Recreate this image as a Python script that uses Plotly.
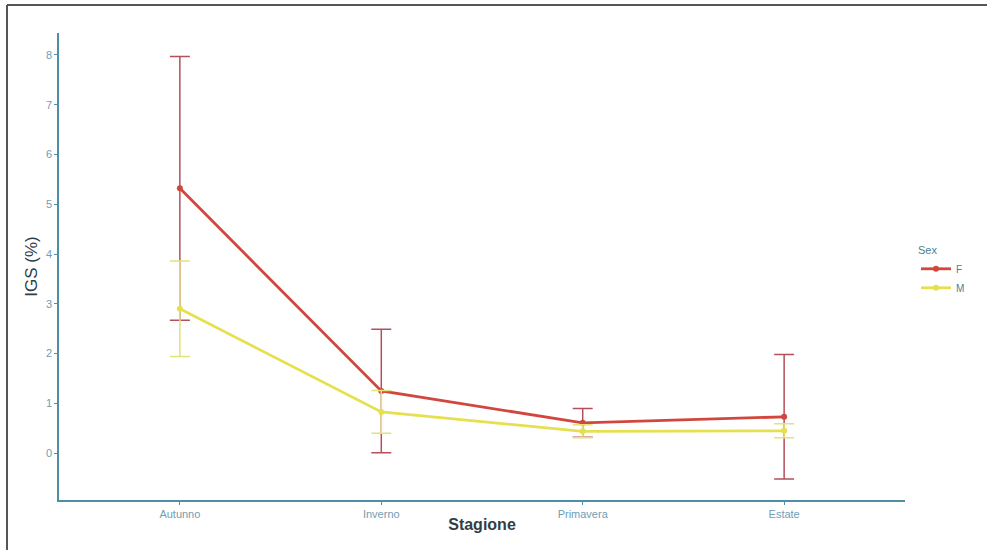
import plotly.graph_objects as go

stagioni = ["Autunno", "Inverno", "Primavera", "Estate"]
igs_f = [5.32, 1.25, 0.61, 0.73]
err_f = [2.65, 1.24, 0.29, 1.25]
igs_m = [2.90, 0.83, 0.44, 0.45]
err_m = [0.96, 0.43, 0.13, 0.14]
y_ticks = [0, 1, 2, 3, 4, 5, 6, 7, 8]

col_f = "#d2473d"
col_f_err = "#b4505c"
col_m = "#e6e04e"
col_m_err = "#e4e27a"
axis_col = "#4f8fa6"
tick_font_col = "#6f9db3"

W, H = 987, 550
L, R, T, B = 59, 82, 33, 50
pw = W - L - R
ph = H - T - B

fig = go.Figure()
fig.add_trace(go.Scatter(
    x=stagioni, y=igs_f, name="F", mode="lines+markers",
    line=dict(color=col_f, width=2.8), marker=dict(color=col_f, size=6),
    error_y=dict(type="data", array=err_f, visible=True, color=col_f_err, thickness=1.5, width=10),
))
fig.add_trace(go.Scatter(
    x=stagioni, y=igs_m, name="M", mode="lines+markers",
    line=dict(color=col_m, width=2.8), marker=dict(color=col_m, size=6),
    error_y=dict(type="data", array=err_m, visible=True, color=col_m_err, thickness=1.5, width=10),
))

fig.update_layout(
    width=W, height=H,
    margin=dict(l=L, r=R, t=T, b=B),
    paper_bgcolor="white", plot_bgcolor="white",
    font=dict(family="Liberation Sans, Arial, sans-serif", color="#333333"),
    showlegend=True,
    legend=dict(
        title=dict(text="Sex", font=dict(size=11, color="#4a7f99")),
        font=dict(size=10, color="#4a7f99"),
        x=(916 - L) / pw, y=(H - B - 240) / ph, xanchor="left", yanchor="top",
        bgcolor="rgba(0,0,0,0)", itemwidth=30, tracegroupgap=0,
    ),
    xaxis=dict(
        type="category", range=[-0.6, 3.6],
        showline=True, linecolor=axis_col, linewidth=1.5,
        ticks="outside", ticklen=3, tickcolor=axis_col,
        tickfont=dict(size=11, color=tick_font_col),
        showgrid=False, zeroline=False,
        title=dict(text="<b>Stagione</b>", font=dict(size=16, color="#2f3f48"), standoff=0),
    ),
    yaxis=dict(
        range=[-0.94, 8.44],
        tickvals=y_ticks,
        showline=True, linecolor=axis_col, linewidth=1.5,
        ticks="outside", ticklen=3, tickcolor=axis_col,
        tickfont=dict(size=11, color=tick_font_col),
        showgrid=False, zeroline=False,
        title=dict(text="IGS (%)", font=dict(size=17, color="#2f3f48"), standoff=4),
    ),
)

# outer frame (top and left edges)
fig.add_shape(type="line", xref="paper", yref="paper",
              x0=(7 - L) / pw, x1=(W - L) / pw, y0=(H - B - 5) / ph, y1=(H - B - 5) / ph,
              line=dict(color="#555555", width=2))
fig.add_shape(type="line", xref="paper", yref="paper",
              x0=(7 - L) / pw, x1=(7 - L) / pw, y0=(H - B - 5) / ph, y1=(H - B - 550) / ph,
              line=dict(color="#555555", width=2))

fig.write_html("out.html")
